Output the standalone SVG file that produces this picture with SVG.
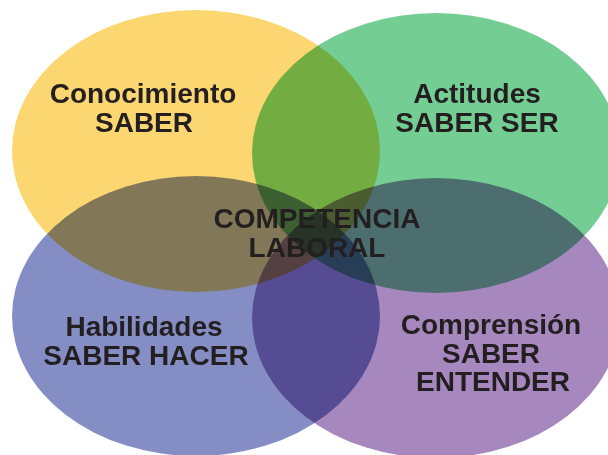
<svg xmlns="http://www.w3.org/2000/svg" width="608" height="455" viewBox="0 0 608 455">
<style>
.node{mix-blend-mode:multiply}
.lbl{font-family:"Liberation Sans",Arial,Helvetica,sans-serif;font-weight:bold;font-size:28px;fill:#231F20;text-anchor:middle}
</style>
<rect width="608" height="455" fill="#ffffff"/>
<g id="conocimiento" class="node">
<ellipse cx="196" cy="151" rx="184" ry="141" fill="#FCD670"/>
<text class="lbl" x="143" y="103">Conocimiento</text>
<text class="lbl" x="144" y="132">SABER</text>
</g>
<g id="actitudes" class="node">
<ellipse cx="436" cy="153" rx="184" ry="140" fill="#74CE94"/>
<text class="lbl" x="477" y="103">Actitudes</text>
<text class="lbl" x="477" y="132">SABER SER</text>
</g>
<g id="habilidades" class="node">
<ellipse cx="196" cy="316" rx="184" ry="140" fill="#848EC4"/>
<text class="lbl" x="144" y="336">Habilidades</text>
<text class="lbl" x="146" y="365">SABER HACER</text>
</g>
<g id="comprension" class="node">
<ellipse cx="436" cy="318" rx="184" ry="140" fill="#A688BF"/>
<text class="lbl" x="491" y="334">Comprensión</text>
<text class="lbl" x="491" y="363">SABER</text>
<text class="lbl" x="493" y="391">ENTENDER</text>
</g>
<g id="competencia">
<text class="lbl" x="317" y="228">COMPETENCIA</text>
<text class="lbl" x="317" y="257">LABORAL</text>
</g>
</svg>
